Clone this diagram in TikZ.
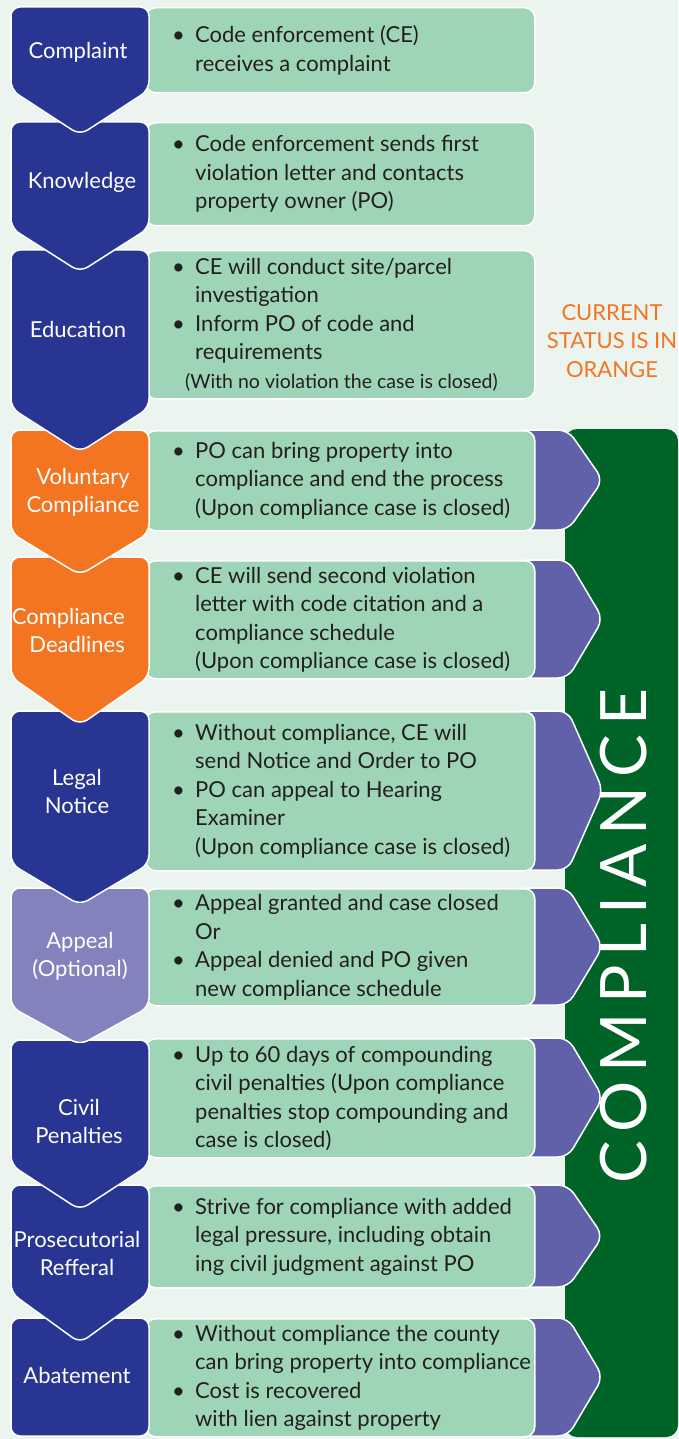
\documentclass[tikz,border=0pt]{standalone}
\usepackage{fontspec}
\setmainfont{Lato}
\usetikzlibrary{calc}
\definecolor{bg}{HTML}{EBF4EE}
\definecolor{navy}{HTML}{283593}
\definecolor{orng}{HTML}{F47521}
\definecolor{lilac}{HTML}{8382BD}
\definecolor{mint}{HTML}{9FD5B7}
\definecolor{violet}{HTML}{6061A8}
\definecolor{forest}{HTML}{006428}
\definecolor{ink}{HTML}{231F20}
\newcommand\bl{\makebox[23pt][l]{\textbullet}}
\newcommand\ind{\hspace*{23pt}}
\newcommand\chevshape[4]{% color, top, body bottom, tip
  \filldraw[#1, draw=white, line width=1.5pt, rounded corners=9pt]
    (11,#2) -- (149,#2) -- (149,#3) -- (80,#4) -- (11,#3) -- cycle;}
\newcommand\parrow[2]{% top, bottom
  \filldraw[violet, draw=white, line width=1.5pt, rounded corners=10pt]
    (515,#1) -- (568,#1) -- (603,{(#1+#2)/2}) -- (568,#2) -- (515,#2) -- cycle;}
\tikzset{
  gbox/.style={draw=white, line width=1.5pt, fill=mint, rounded corners=10pt,
    anchor=north west, minimum width=389pt, inner sep=0pt},
  txt/.style={inner sep=0pt, align=left, text=ink, anchor=west,
    font=\fontsize{22}{28.5}\selectfont},
  lbl/.style={inner sep=0pt, align=center, text=white,
    font=\fontsize{22}{28}\selectfont},
}
\begin{document}
\begin{tikzpicture}[x=1pt,y=-1pt]
\useasboundingbox (0,0) rectangle (678,1439);
\fill[bg] (0,0) rectangle (678,1439);
% compliance band
\fill[forest, rounded corners=12pt] (565,429) rectangle (678,1437);
\node[rotate=90, inner sep=0pt, text=white,
  font=\fontsize{64}{64}\selectfont\addfontfeature{LetterSpace=14}] (comp) at (624,936) {COMPLIANCE};
% purple arrows
\parrow{430}{530}
\parrow{560}{678}
\parrow{711}{870}
\parrow{888}{1005}
\parrow{1038}{1157}
\parrow{1185}{1287}
\parrow{1318}{1436}
% green boxes
\node[gbox, minimum height=85pt] (g1) at (145,7) {};
\node[gbox, minimum height=103pt] (g2) at (145,122) {};
\node[gbox, minimum height=148pt] (g3) at (145,250) {};
\node[gbox, minimum height=100pt] (g4) at (145,430) {};
\node[gbox, minimum height=118pt] (g5) at (145,560) {};
\node[gbox, minimum height=159pt] (g6) at (145,711) {};
\node[gbox, minimum height=117pt] (g7) at (145,888) {};
\node[gbox, minimum height=119pt] (g8) at (145,1038) {};
\node[gbox, minimum height=102pt] (g9) at (145,1185) {};
\node[gbox, minimum height=118pt] (g10) at (145,1318) {};
% texts
\node[txt] (t1) at ([xshift=27pt]g1.west) {\bl Code enforcement (CE)\\\ind receives a complaint};
\node[txt] (t2) at ([xshift=27pt]g2.west) {\bl Code enforcement sends first\\\ind violation letter and contacts\\\ind property owner (PO)};
\node[txt] (t3) at ([xshift=27pt]g3.west) {\bl CE will conduct site/parcel\\\ind investigation\\\bl Inform PO of code and\\\ind requirements\\\hspace*{13pt}{\fontsize{19.5}{28.5}\selectfont(With no violation the case is closed)}};
\node[txt] (t4) at ([xshift=27pt]g4.west) {\bl PO can bring property into\\\ind compliance and end the process\\\ind (Upon compliance case is closed)};
\node[txt] (t5) at ([xshift=27pt]g5.west) {\bl CE will send second violation\\\ind letter with code citation and a\\\ind compliance schedule\\\ind (Upon compliance case is closed)};
\node[txt] (t6) at ([xshift=27pt]g6.west) {\bl Without compliance, CE will\\\ind send Notice and Order to PO\\\bl PO can appeal to Hearing\\\ind Examiner\\\ind (Upon compliance case is closed)};
\node[txt] (t7) at ([xshift=27pt]g7.west) {\bl Appeal granted and case closed\\\ind Or\\\bl Appeal denied and PO given\\\ind new compliance schedule};
\node[txt] (t8) at ([xshift=27pt]g8.west) {\bl Up to 60 days of compounding\\\ind civil penalties (Upon compliance\\\ind penalties stop compounding and\\\ind case is closed)};
\node[txt] (t9) at ([xshift=27pt]g9.west) {\bl Strive for compliance with added\\\ind legal pressure, including obtain\\\ind ing civil judgment against PO};
\node[txt] (t10) at ([xshift=27pt]g10.west) {\bl Without compliance the county\\\ind can bring property into compliance\\\bl Cost is recovered\\\ind with lien against property};
% chevrons (bottom first so tips overlap the next step)
\filldraw[navy, draw=white, line width=1.5pt, rounded corners=9pt] (11,1318) rectangle (149,1436);
\chevshape{navy}{1185}{1293}{1343}
\chevshape{navy}{1040}{1165}{1210}
\chevshape{lilac}{888}{1007}{1045}
\chevshape{navy}{711}{864}{905}
\chevshape{orng}{557}{677}{725}
\chevshape{orng}{430}{533}{575}
\chevshape{navy}{250}{408}{452}
\chevshape{navy}{122}{228}{272}
\chevshape{navy}{7}{90}{135}
% labels
\node[lbl] (c1) at (78,52) {Complaint};
\node[lbl] (c2) at (82,182) {Knowledge};
\node[lbl] (c3) at (78,329) {Education};
\node[lbl] (c4) at (83,492) {Voluntary\\Compliance};
\node[lbl, align=right, anchor=east] (c5) at (125,630) {Compliance\\Deadlines};
\node[lbl] (c6) at (77,791) {Legal\\Notice};
\node[lbl] (c7) at (80,956) {Appeal\\(Optional)};
\node[lbl] (c8) at (79,1121) {Civil\\Penalties};
\node[lbl] (c9) at (77,1253) {Prosecutorial\\Refferal};
\node[lbl] (c10) at (77,1375) {Abatement};
% status note
\node[lbl, text=orng, font=\fontsize{22}{28.5}\selectfont] (status) at (612,341) {CURRENT\\STATUS IS IN\\ORANGE};
\end{tikzpicture}
\end{document}
